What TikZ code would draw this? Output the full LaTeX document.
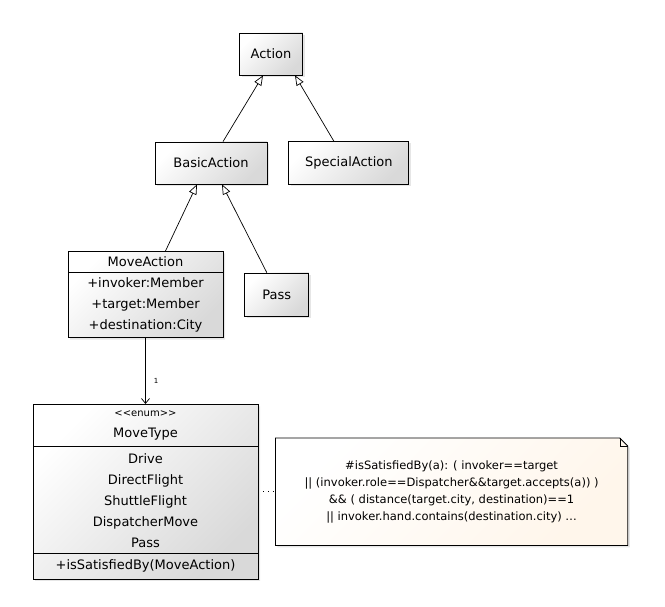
\documentclass[tikz,border=0pt]{standalone}
\usepackage{fontspec}
\setmainfont{DejaVu Sans}
\usetikzlibrary{positioning,shapes.multipart,shadows,arrows.meta,backgrounds}

\begin{document}
\begin{tikzpicture}[x=1pt,y=-1pt]
\tikzstyle{cls}=[rectangle, draw=black, line width=0.8pt, top color=white, bottom color=black!15, shading angle=45, drop shadow={opacity=0.2, shadow xshift=2pt, shadow yshift=-2pt}, font=\fontsize{13}{21}\selectfont, align=center, inner xsep=5pt, inner ysep=5pt]
\tikzstyle{notebox}=[line width=0.8pt, draw=black, top color=white, bottom color=yellow!10!orange!8, shading angle=45, drop shadow={opacity=0.2, shadow xshift=2pt, shadow yshift=-2pt}]
\tikzstyle{inherit}=[-{Triangle[open, length=10pt, width=8pt]}, line width=0.7pt]
\tikzstyle{assoc}=[-{Straight Barb[length=5pt, width=8pt]}, line width=0.7pt]
  \useasboundingbox (0,0) rectangle (665,607);
  \node[cls, minimum width=63pt, minimum height=42pt] (action) at (271,54) {Action};
  \node[cls, minimum width=112pt, minimum height=42pt] (basic) at (211,163) {BasicAction};
  \node[cls, minimum width=120pt, minimum height=43pt] (special) [right=21pt of basic] {SpecialAction};
  \node[cls, rectangle split, rectangle split parts=2, minimum width=155pt, inner ysep=5pt] (move) at (145.5,294.5)
    {MoveAction \nodepart{two} +invoker:Member\\+target:Member\\+destination:City};
  \node[cls, minimum width=64pt, minimum height=43pt] (pass) [right=21pt of move] {Pass};
  \node[cls, rectangle split, rectangle split parts=3, minimum width=225pt, inner ysep=6pt] (movetype) [below=66pt of move]
    {{\fontsize{10}{21}\selectfont \textless\kern0pt\textless enum\textgreater\kern0pt\textgreater}\\MoveType
     \nodepart{two} Drive\\DirectFlight\\ShuttleFlight\\DispatcherMove\\Pass
     \nodepart{three} +isSatisfiedBy(MoveAction)};
  \node[minimum width=352pt, minimum height=107pt, align=center, font=\fontsize{11.5}{17}\selectfont] (note) [right=17pt of movetype]
    {\#isSatisfiedBy(a): ( invoker==target\\
     || (invoker.role==Dispatcher\&\&target.accepts(a)) )\\
     \&\& ( distance(target.city, destination)==1\\
     || invoker.hand.contains(destination.city) \dots};
  \begin{scope}[on background layer]
    \path[notebox] (note.south west) -- (note.north west) -- ([xshift=-8pt]note.north east)
      -- ([yshift=-8pt]note.north east) -- (note.south east) -- cycle;
  \end{scope}
  \draw[line width=0.6pt] ([xshift=-8pt]note.north east) -- ([xshift=-8pt,yshift=-8pt]note.north east) -- ([yshift=-8pt]note.north east);
  \draw[inherit] ([xshift=12pt]basic.north) -- ([xshift=-8pt]action.south);
  \draw[inherit] ([xshift=-15pt]special.north) -- ([xshift=24pt]action.south);
  \draw[inherit] ([xshift=20pt]move.north) -- ([xshift=-14pt]basic.south);
  \draw[inherit] ([xshift=-10pt]pass.north) -- ([xshift=11pt]basic.south);
  \draw[assoc] (move.south) -- node[pos=0.65, right, inner sep=8pt, font=\scriptsize] {1} (move.south |- movetype.north);
  \draw[line width=0.7pt, dash pattern=on 0.8pt off 4pt] (movetype.east) -- (note.west);
\end{tikzpicture}
\end{document}
